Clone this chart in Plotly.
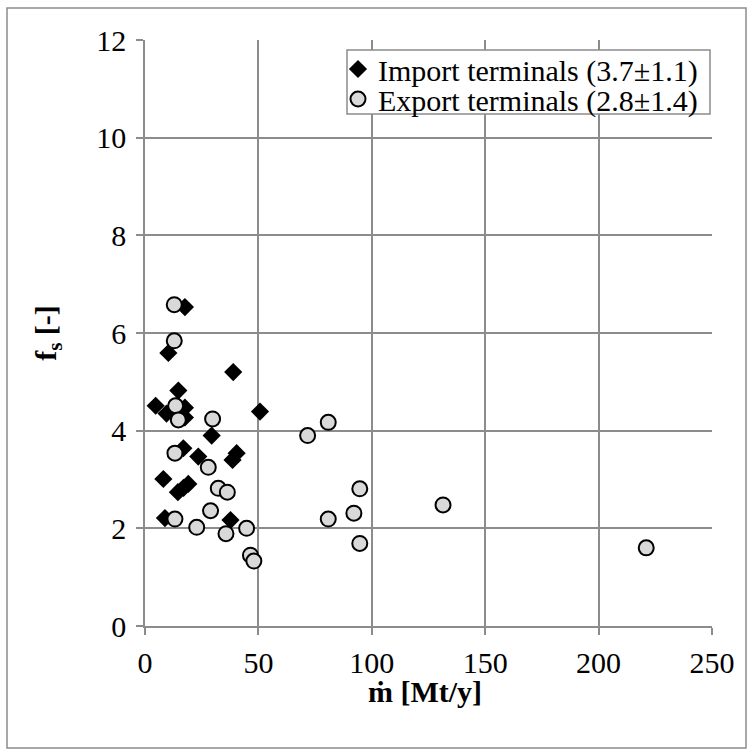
import plotly.graph_objects as go

# Import terminals (diamonds)
imp_x = [17.6, 10.3, 38.9, 14.7, 4.7, 17.6, 9.5, 17.6, 50.7, 29.4, 16.9, 23.5, 40.4, 38.6,
         8.1, 19.1, 17.0, 14.5, 8.8, 37.7]
imp_y = [6.53, 5.59, 5.20, 4.82, 4.51, 4.47, 4.35, 4.27, 4.39, 3.90, 3.64, 3.47, 3.54, 3.40,
         3.01, 2.91, 2.83, 2.74, 2.21, 2.17]

# Export terminals (circles)
exp_x = [12.9, 12.9, 13.5, 14.7, 29.8, 71.7, 80.8, 13.2, 27.9, 32.3, 36.3, 94.7, 131.4,
         92.1, 28.9, 13.2, 80.8, 22.8, 44.8, 35.7, 94.7, 46.5, 48.0, 221.0]
exp_y = [6.58, 5.84, 4.51, 4.22, 4.24, 3.90, 4.17, 3.54, 3.25, 2.82, 2.74, 2.81, 2.48,
         2.31, 2.36, 2.19, 2.19, 2.02, 2.00, 1.89, 1.69, 1.45, 1.33, 1.60]

x_ticks = [0, 50, 100, 150, 200, 250]
y_ticks = [0, 2, 4, 6, 8, 10, 12]

FONT = "Liberation Serif, Times New Roman, serif"
GRID = "#8c8c8c"

L, R, T, B = 145, 39, 40, 128
W, H = 751, 754
pw, ph = W - L - R, H - T - B


def px_x(p):
    return (p - L) / pw


def px_y(p):
    return (H - B - p) / ph


fig = go.Figure()
fig.add_trace(go.Scatter(
    x=imp_x, y=imp_y, mode="markers", name="Import terminals (3.7\u00b11.1)",
    marker=dict(symbol="diamond", size=14, color="black", line=dict(width=0)),
    legend="legend",
))
fig.add_trace(go.Scatter(
    x=exp_x, y=exp_y, mode="markers", name="Export terminals (2.8\u00b11.4)",
    marker=dict(symbol="circle", size=15, color="#d9d9d9", line=dict(width=2, color="black")),
    legend="legend2",
))

leg_common = dict(
    xanchor="left", yanchor="middle", bgcolor="rgba(0,0,0,0)", borderwidth=0,
    font=dict(family=FONT, size=30, color="black"), itemwidth=30,
)

fig.update_layout(
    width=W, height=H,
    margin=dict(l=L, r=R, t=T, b=B),
    paper_bgcolor="white", plot_bgcolor="white",
    font=dict(family=FONT, size=30, color="black"),
    showlegend=True,
    legend=dict(x=px_x(338), y=px_y(69), **leg_common),
    legend2=dict(x=px_x(338), y=px_y(99), **leg_common),
    xaxis=dict(
        range=[0, 250], tickvals=x_ticks, showgrid=True, gridcolor=GRID, gridwidth=1.5,
        showline=True, linecolor=GRID, linewidth=1.5, ticks="outside", ticklen=7,
        tickcolor=GRID, tickwidth=1.5, zeroline=False, fixedrange=True,
        tickfont=dict(family=FONT, size=30), ticklabelstandoff=2,
    ),
    yaxis=dict(
        range=[0, 12], tickvals=y_ticks, showgrid=True, gridcolor=GRID, gridwidth=1.5,
        showline=True, linecolor=GRID, linewidth=1.5, ticks="outside", ticklen=7,
        tickcolor=GRID, tickwidth=1.5, zeroline=False, fixedrange=True,
        tickfont=dict(family=FONT, size=30), ticklabelstandoff=4,
        title=dict(text="<b>f<sub>s</sub> [-]</b>", font=dict(family=FONT, size=30), standoff=31),
    ),
)

# x-axis title
fig.add_annotation(
    text="<b>\u1e41 [Mt/y]</b>", xref="paper", yref="paper",
    x=px_x(425), y=px_y(692), xanchor="center", yanchor="middle",
    showarrow=False, font=dict(family=FONT, size=30, color="black"),
)

# legend box
fig.add_shape(
    type="rect", xref="paper", yref="paper",
    x0=px_x(347), x1=px_x(710), y0=px_y(114), y1=px_y(50),
    line=dict(color=GRID, width=1.5), fillcolor="white", layer="above",
)

# outer chart frame
fig.add_shape(
    type="rect", xref="paper", yref="paper",
    x0=px_x(7), x1=px_x(746), y0=px_y(748), y1=px_y(8),
    line=dict(color=GRID, width=1.5), fillcolor="rgba(0,0,0,0)", layer="below",
)

fig.write_html("out.html")
